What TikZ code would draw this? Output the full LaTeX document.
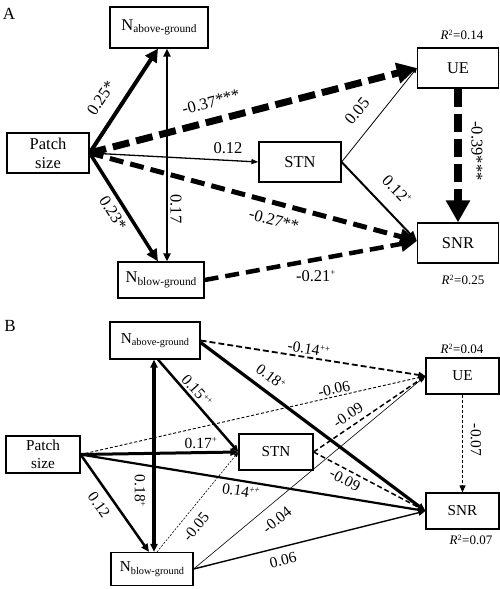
\documentclass[tikz,border=0pt]{standalone}
\usepackage{fontspec}
\setmainfont{Liberation Serif}
\usetikzlibrary{arrows.meta}
\newcommand{\nsubA}[1]{N\raisebox{-0.35ex}{\fontsize{11.4}{12}\selectfont #1}}
\newcommand{\nsubB}[1]{N\raisebox{-0.35ex}{\fontsize{10.3}{11}\selectfont #1}}
\newcommand{\sps}[1]{\textsuperscript{\fontsize{9}{9}\selectfont #1}}
\newcommand{\rsq}[1]{\textit{R}\textsuperscript{\fontsize{8}{8}\selectfont 2}=#1}
\begin{document}
\begin{tikzpicture}[x=1pt,y=-1pt,
  boxA/.style={draw, line width=1.2pt, fill=white, inner sep=0pt, align=center, font=\fontsize{16.5}{19}\selectfont},
  boxB/.style={draw, line width=1.2pt, fill=white, inner sep=0pt, align=center, font=\fontsize{15.2}{17.5}\selectfont},
  labA/.style={inner sep=0pt, font=\fontsize{16.5}{18}\selectfont},
  labB/.style={inner sep=0pt, font=\fontsize{15.5}{17}\selectfont},
  rlab/.style={inner sep=0pt, font=\fontsize{13}{15}\selectfont},
  panel/.style={inner sep=0pt, font=\fontsize{17}{19}\selectfont},
  tipS/.style={-{Triangle[length=7pt,width=6pt]}},
  tipXS/.style={-{Triangle[length=5pt,width=4pt]}}
]
\useasboundingbox (0,0) rectangle (500,589);

% ---------------- Panel A ----------------
\node[panel] (pA) at (9,14) {A};
\node[boxA, minimum width=98pt, minimum height=41pt] (Nab) at (159,27.5) {\nsubA{above-ground}};
\node[boxA, minimum width=82pt, minimum height=40pt] (Patch) at (48,153) {Patch\\size};
\node[boxA, minimum width=86pt, minimum height=36pt] (Nbl) at (161,280) {\nsubA{blow-ground}};
\node[boxA, minimum width=82pt, minimum height=40pt] (STN) at (300,162) {STN};
\node[boxA, minimum width=81pt, minimum height=40pt] (UE) at (458,68) {UE};
\node[boxA, minimum width=81pt, minimum height=40pt] (SNR) at (458,243) {SNR};
\node[rlab] (r1) at (462,35) {\rsq{0.14}};
\node[rlab] (r2) at (463,280) {\rsq{0.25}};

\draw[line width=4pt, -{Triangle[length=13pt,width=13pt]}] (Patch.east) -- ([xshift=-1pt]Nab.south);
\draw[line width=2pt, {Triangle[length=8pt,width=7pt]}-{Triangle[length=8pt,width=7pt]}] ([xshift=8pt]Nab.south) -- ([xshift=6pt]Nbl.north);
\draw[line width=7pt, dash pattern=on 17pt off 7pt, -{Triangle[length=20pt,width=20pt]}] (Patch.east) -- (UE.west);
\draw[line width=1.3pt, -{Triangle[length=7pt,width=5pt]}] (Patch.east) -- (STN.west);
\draw[line width=5pt, dash pattern=on 14pt off 7pt, -{Triangle[length=17pt,width=15pt]}] (Patch.east) -- ([yshift=2pt]SNR.west);
\draw[line width=3.5pt, -{Triangle[length=12pt,width=11pt]}] (Patch.east) -- ([xshift=-3pt]Nbl.north);
\draw[line width=4.5pt, dash pattern=on 14pt off 7pt, -{Triangle[length=16pt,width=15pt]}] (Nbl.east) -- ([yshift=2pt]SNR.west);
\draw[line width=0.8pt, tipXS] (STN.east) -- (UE.west);
\draw[line width=2pt, -{Triangle[length=10pt,width=8pt]}] (STN.east) -- ([yshift=2pt]SNR.west);
\draw[line width=8pt, dash pattern=on 18pt off 7pt, -{Triangle[length=22pt,width=23pt]}] (UE.south) -- (SNR.north);

\node[labA, rotate=56] (la1) at (101,98) {0.25*};
\node[labA, rotate=-90] (la2) at (176,209) {0.17};
\node[labA, rotate=14.5] (la3) at (211,102) {-0.37***};
\node[labA] (la4) at (228,148) {0.12};
\node[labA, rotate=-15] (la5) at (274,220) {-0.27**};
\node[labA, rotate=-58] (la6) at (113,213) {0.23*};
\node[labA] (la7) at (316,276) {-0.21\sps{+}};
\node[labA, rotate=50] (la8) at (357,111) {0.05};
\node[labA, rotate=-46] (la9) at (397,190) {0.12\sps{+}};
\node[labA, rotate=-90] (la10) at (477,151) {-0.39***};

% ---------------- Panel B ----------------
\node[panel] (pB) at (10,326) {B};
\node[boxB, minimum width=90pt, minimum height=37pt] (Nab2) at (155,340.5) {\nsubB{above-ground}};
\node[boxB, minimum width=74pt, minimum height=37pt] (Patch2) at (43,454.5) {Patch\\size};
\node[boxB, minimum width=74pt, minimum height=36pt] (STN2) at (276,452) {STN};
\node[boxB, minimum width=82pt, minimum height=33pt] (Nbl2) at (152,569) {\nsubB{blow-ground}};
\node[boxB, minimum width=73pt, minimum height=36pt] (UE2) at (462.5,376) {UE};
\node[boxB, minimum width=73pt, minimum height=36pt] (SNR2) at (462.5,511) {SNR};
\node[rlab] (r3) at (462,349) {\rsq{0.04}};
\node[rlab] (r4) at (471,540) {\rsq{0.07}};

\draw[line width=3.3pt, {Triangle[length=8pt,width=7pt]}-{Triangle[length=8pt,width=7pt]}] ([xshift=-1pt]Nab2.south) -- ([xshift=2pt]Nbl2.north);
\draw[line width=3pt, -{Triangle[length=8pt,width=7pt]}] (Patch2.east) -- (STN2.west);
\draw[line width=0.9pt, dash pattern=on 3pt off 2pt, tipS] (Patch2.east) -- (UE2.west);
\draw[line width=2.2pt, tipS] (Patch2.east) -- (SNR2.west);
\draw[line width=2.5pt, -{Triangle[length=8pt,width=7pt]}] (Patch2.east) -- ([xshift=-3pt]Nbl2.north);
\draw[line width=1.8pt, dash pattern=on 6pt off 3pt, tipS] (Nab2.east) -- (UE2.west);
\draw[line width=3.2pt, -{Triangle[length=8pt,width=7pt]}] ([yshift=-2pt]Nab2.east) -- (SNR2.west);
\draw[line width=2.5pt, tipS] ([xshift=3pt]Nab2.south) -- (STN2.west);
\draw[line width=1.5pt, dash pattern=on 5pt off 3pt, tipS] (STN2.east) -- (UE2.west);
\draw[line width=1.5pt, dash pattern=on 5pt off 3pt, tipS] (STN2.east) -- (SNR2.west);
\draw[line width=0.6pt, tipXS] (Nbl2.east) -- (UE2.west);
\draw[line width=1.4pt, tipS] (Nbl2.east) -- (SNR2.west);
\draw[line width=0.6pt, dash pattern=on 2pt off 1.5pt, tipXS] ([xshift=5pt]Nbl2.north) -- (STN2.west);
\draw[line width=1pt, dash pattern=on 3pt off 2pt, tipS] (UE2.south) -- (SNR2.north);

\node[labB, rotate=-90] (lb1) at (140,491) {0.18\sps{+}};
\node[labB] (lb2) at (201,443) {0.17\sps{+}};
\node[labB, rotate=12.7] (lb3) at (334,389) {-0.06};
\node[labB, rotate=-9] (lb4) at (241,491) {0.14\sps{++}};
\node[labB, rotate=-55] (lb5) at (99,505) {0.12};
\node[labB, rotate=-9] (lb6) at (309,349) {-0.14\sps{++}};
\node[labB, rotate=-37] (lb7) at (271,377) {0.18\sps{+}};
\node[labB, rotate=-48] (lb8) at (197,391) {0.15\sps{++}};
\node[labB, rotate=33.6] (lb9) at (348,415) {-0.09};
\node[labB, rotate=-27.6] (lb10) at (345,480) {-0.09};
\node[labB, rotate=39] (lb11) at (277,520) {-0.04};
\node[labB, rotate=13.7] (lb12) at (283,560) {0.06};
\node[labB, rotate=50.6] (lb13) at (196,527) {-0.05};
\node[labB, rotate=-90] (lb14) at (476,440) {-0.07};
\end{tikzpicture}
\end{document}
